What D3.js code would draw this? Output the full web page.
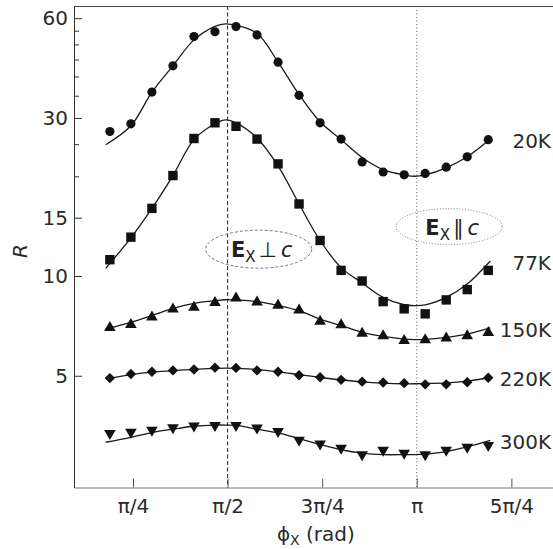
<!DOCTYPE html>
<html>
<head>
<meta charset="utf-8">
<script src="https://cdn.jsdelivr.net/npm/d3@7"></script>
<style>
  body { margin: 0; background: #fff; }
  svg { display: block; font-family: "DejaVu Sans", sans-serif; }
</style>
</head>
<body>
<div id="chart"></div>
<script>
// measured angles (degrees) of the data points
const phiDeg = [34, 44, 54, 64, 74, 84, 94, 104, 114, 124, 134, 144, 154, 164, 174, 184, 194, 204, 214];

// R values per temperature
const r20K  = [27.3, 28.8, 35.9, 43.1, 52.8, 54.6, 56.6, 53.4, 44.2, 35.1, 29.0, 25.9, 22.1, 20.6, 20.2, 20.4, 21.3, 22.9, 25.8];
const r77K  = [11.2, 13.1, 16.0, 20.1, 26.0, 29.0, 28.3, 25.9, 21.8, 16.5, 12.8, 10.4, 9.66, 8.37, 7.96, 7.69, 8.47, 9.10, 10.4];
const r150K = [7.06, 7.22, 7.60, 8.03, 8.14, 8.41, 8.68, 8.44, 8.25, 7.98, 7.38, 7.20, 6.79, 6.67, 6.46, 6.49, 6.57, 6.67, 6.83];
const r220K = [4.92, 5.06, 5.14, 5.19, 5.22, 5.29, 5.28, 5.19, 5.14, 5.02, 4.95, 4.86, 4.80, 4.77, 4.75, 4.71, 4.71, 4.78, 4.93];
const r300K = [3.31, 3.34, 3.39, 3.45, 3.49, 3.50, 3.50, 3.44, 3.36, 3.16, 3.08, 2.99, 2.86, 2.95, 2.89, 2.86, 2.95, 3.01, 3.05];

// fitted curves
const fitDeg = [32, 44, 54, 64, 74, 84, 89, 94, 104, 114, 124, 134, 144, 154, 164, 174, 179, 184, 194, 204, 215];
const fit20K  = [24.9, 28.4, 35.9, 43.1, 51.6, 56.7, 57.7, 57.1, 54.0, 44.2, 35.3, 29.2, 25.8, 22.8, 20.95, 20.2, 20.0, 20.2, 21.2, 22.9, 25.9];
const fit77K  = [10.55, 13.04, 16.0, 20.1, 25.8, 28.8, 29.6, 29.0, 26.1, 21.5, 16.5, 12.8, 10.6, 9.53, 8.62, 8.19, 8.14, 8.18, 8.62, 9.46, 11.1];
const fit150K = [6.92, 7.25, 7.60, 7.98, 8.27, 8.42, 8.48, 8.46, 8.37, 8.15, 7.86, 7.41, 7.09, 6.76, 6.57, 6.45, 6.43, 6.44, 6.53, 6.68, 6.97];
const fit220K = [4.89, 5.04, 5.13, 5.18, 5.23, 5.26, 5.27, 5.26, 5.22, 5.14, 5.04, 4.94, 4.86, 4.79, 4.75, 4.73, 4.73, 4.74, 4.76, 4.82, 4.94];
const fit300K = [3.15, 3.26, 3.37, 3.45, 3.52, 3.55, 3.55, 3.54, 3.45, 3.36, 3.23, 3.10, 2.99, 2.92, 2.89, 2.89, 2.89, 2.90, 2.95, 3.05, 3.19];

const seriesNames = ["20K", "77K", "150K", "220K", "300K"];

// axis ticks
const xTickValues = [Math.PI / 4, Math.PI / 2, 3 * Math.PI / 4, Math.PI, 5 * Math.PI / 4];
const xTickLabels = ["π/4", "π/2", "3π/4", "π", "5π/4"];
const yMajorTicks = [5, 10, 15, 30, 60];
const yMinorTicks = [20, 25, 35, 40, 45, 50, 55];

const rad = d => d * Math.PI / 180;

const width = 553, height = 549;
const margin = { top: 6, right: 0, bottom: 61.5, left: 74 };

const svg = d3.select("#chart").append("svg")
    .attr("width", width)
    .attr("height", height);

// scales
const x = d3.scaleLinear()
    .domain([rad(16.93), rad(244.8)])
    .range([margin.left, width - margin.right]);

const y = d3.scaleLog()
    .domain([2.30, 65.3])
    .range([height - margin.bottom, margin.top]);

// reference lines at pi/2 (dashed) and pi (dotted)
svg.append("line")
    .attr("x1", x(Math.PI / 2)).attr("x2", x(Math.PI / 2))
    .attr("y1", margin.top).attr("y2", height - margin.bottom)
    .attr("stroke", "#222").attr("stroke-width", 1)
    .attr("stroke-dasharray", "4,2.5");

svg.append("line")
    .attr("x1", x(Math.PI)).attr("x2", x(Math.PI))
    .attr("y1", margin.top + 4).attr("y2", height - margin.bottom)
    .attr("stroke", "#555").attr("stroke-width", 1)
    .attr("stroke-dasharray", "1,2.5");

// axes
const xAxis = d3.axisBottom(x)
    .tickValues(xTickValues)
    .tickSize(-9)
    .tickSizeOuter(0)
    .tickPadding(11)
    .tickFormat((d, i) => xTickLabels[i]);

const yAxis = d3.axisLeft(y)
    .tickValues(yMajorTicks)
    .tickSize(-8)
    .tickSizeOuter(0)
    .tickPadding(6)
    .tickFormat(d3.format("d"));

const yMinor = d3.axisLeft(y)
    .tickValues(yMinorTicks)
    .tickSize(-5)
    .tickSizeOuter(0)
    .tickFormat("");

const xAxisGroup = svg.append("g")
    .attr("transform", `translate(0, ${ height - margin.bottom })`)
    .call(xAxis);

const yAxisGroup = svg.append("g")
    .attr("transform", `translate(${ margin.left }, 0)`)
    .call(yAxis);

const yMinorGroup = svg.append("g")
    .attr("transform", `translate(${ margin.left }, 0)`)
    .call(yMinor);
yMinorGroup.select("path.domain").remove();

[xAxisGroup, yAxisGroup].forEach(g => {
    g.selectAll("text")
        .attr("font-family", "DejaVu Sans, sans-serif")
        .attr("font-size", 20)
        .attr("fill", "#2a2a2a");
});
xAxisGroup.selectAll("line").attr("stroke", "#555");
xAxisGroup.select("path.domain").attr("stroke", "#777");
yAxisGroup.selectAll("line").attr("stroke", "#333");
yAxisGroup.select("path.domain").attr("stroke", "#333");
yMinorGroup.selectAll("line").attr("stroke", "#333");

// top frame line
svg.append("line")
    .attr("x1", margin.left).attr("x2", width)
    .attr("y1", margin.top + 0.5).attr("y2", margin.top + 0.5)
    .attr("stroke", "#444");

// marker shapes, centred on their bounding box
const triUp = { draw(ctx) { ctx.moveTo(0, -5); ctx.lineTo(5.8, 5); ctx.lineTo(-5.8, 5); ctx.closePath(); } };
const triDown = { draw(ctx) { ctx.moveTo(0, 5); ctx.lineTo(5.8, -5); ctx.lineTo(-5.8, -5); ctx.closePath(); } };
const diamond = { draw(ctx) { ctx.moveTo(0, -5.2); ctx.lineTo(5.2, 0); ctx.lineTo(0, 5.2); ctx.lineTo(-5.2, 0); ctx.closePath(); } };
const square = { draw(ctx) { ctx.rect(-4.7, -4.7, 9.4, 9.4); } };
const circle = { draw(ctx) { ctx.moveTo(4.6, 0); ctx.arc(0, 0, 4.6, 0, 2 * Math.PI); } };

const series = [
    { name: seriesNames[0], values: r20K, fit: fit20K, shape: circle },
    { name: seriesNames[1], values: r77K, fit: fit77K, shape: square },
    { name: seriesNames[2], values: r150K, fit: fit150K, shape: triUp },
    { name: seriesNames[3], values: r220K, fit: fit220K, shape: diamond },
    { name: seriesNames[4], values: r300K, fit: fit300K, shape: triDown }
];

const line = d3.line()
    .x(d => x(rad(d[0])))
    .y(d => y(d[1]))
    .curve(d3.curveCatmullRom.alpha(0.5));

series.forEach(s => {
    svg.append("path")
        .datum(fitDeg.map((d, i) => [d, s.fit[i]]))
        .attr("fill", "none")
        .attr("stroke", "#1a1a1a")
        .attr("stroke-width", 1.3)
        .attr("d", line);

    svg.append("g").selectAll("path")
        .data(phiDeg.map((d, i) => [d, s.values[i]]))
        .enter()
        .append("path")
        .attr("transform", d => `translate(${ x(rad(d[0])) }, ${ y(d[1]) })`)
        .attr("d", d3.symbol().type(s.shape))
        .attr("fill", "#111");

    // temperature label at the right end of each fit
    svg.append("text")
        .attr("x", width - 2)
        .attr("y", y(s.fit[s.fit.length - 1]) + 2)
        .attr("dy", "0.35em")
        .attr("text-anchor", "end")
        .attr("font-size", 20)
        .attr("fill", "#2a2a2a")
        .text(s.name);
});

// polarisation annotations
const perpNote = { deg: 104.8, r: 12.05, rx: 53, ry: 19, sym: "⊥", dash: "3,2" };
const paraNote = { deg: 195.4, r: 14.1, rx: 53, ry: 18, sym: "∥", dash: "1,1.8" };

[perpNote, paraNote].forEach(n => {
    const cx = x(rad(n.deg)), cy = y(n.r);
    svg.append("ellipse")
        .attr("cx", cx).attr("cy", cy)
        .attr("rx", n.rx).attr("ry", n.ry)
        .attr("fill", "none")
        .attr("stroke", "#777")
        .attr("stroke-width", 1)
        .attr("stroke-dasharray", n.dash);

    const t = svg.append("text")
        .attr("x", cx + 3)
        .attr("y", cy + 8)
        .attr("text-anchor", "middle")
        .attr("font-size", 21)
        .attr("fill", "#222");
    t.append("tspan").attr("font-weight", "bold").text("E");
    t.append("tspan").attr("font-size", 15).attr("dy", 5).text("X");
    t.append("tspan").attr("dy", -5).attr("dx", 3).text(n.sym);
    t.append("tspan").attr("dx", 4).attr("font-style", "italic").text("c");
});

// axis titles
svg.append("text")
    .attr("transform", `translate(27, ${ y(11.9) }) rotate(-90)`)
    .attr("text-anchor", "middle")
    .attr("font-size", 20)
    .attr("font-style", "italic")
    .attr("fill", "#2a2a2a")
    .text("R");

const xTitle = svg.append("text")
    .attr("x", x(rad(132)))
    .attr("y", 541)
    .attr("text-anchor", "middle")
    .attr("font-size", 20)
    .attr("fill", "#2a2a2a");
xTitle.append("tspan").text("ϕ");
xTitle.append("tspan").attr("font-size", 14).attr("dy", 4).text("X");
xTitle.append("tspan").attr("dy", -4).text(" (rad)");
</script>
</body>
</html>
